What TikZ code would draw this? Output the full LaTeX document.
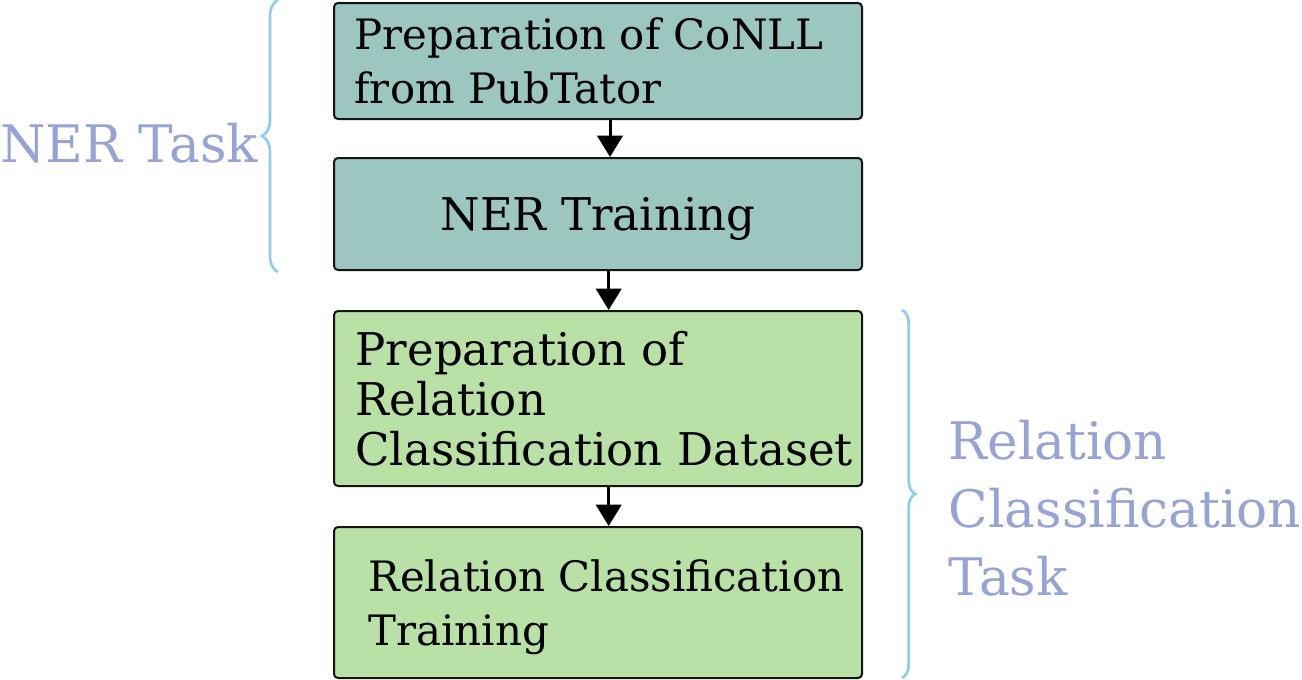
\documentclass[tikz,border=0pt]{standalone}
\usepackage{fontspec}
\setmainfont{DejaVu Serif}
\usetikzlibrary{arrows.meta,decorations.pathreplacing}

\definecolor{nerfill}{RGB}{155,199,192}
\definecolor{relfill}{RGB}{185,224,165}
\definecolor{bracecol}{RGB}{143,205,238}
\definecolor{labelcol}{RGB}{151,163,214}

\tikzset{every picture/.style={line width=0.75pt}}
\tikzset{
  stagebox/.style={draw={rgb,255:red,20;green,20;blue,20}, line width=1.5pt, rounded corners=3pt, minimum width=396pt, inner sep=0pt},
  stagetext/.style={anchor=west, inner sep=0pt, align=left, font=\fontsize{31.4}{40.5}\selectfont},
  tasklabel/.style={inner sep=0pt, align=left, text=labelcol, font=\fontsize{38.8}{51}\selectfont},
  taskbrace/.style={draw=bracecol, line width=2pt, decorate, decoration={brace, amplitude=#1}},
  flow/.style={line width=2.25pt, -{Triangle[length=16pt,width=19pt]}}
}

\begin{document}
\begin{tikzpicture}[x=0.75pt,y=0.75pt,yscale=-1,xscale=1]
\useasboundingbox (0,0) rectangle (1302,679);

%Shape: Rectangle [conll]
\node[stagebox, fill=nerfill, minimum height=87pt] (conll) at (598,61) {};
%Shape: Rectangle [ner]
\node[stagebox, fill=nerfill, minimum height=84pt] (ner) at (598,214) {};
%Shape: Rectangle [reldata]
\node[stagebox, fill=relfill, minimum height=131.25pt] (reldata) at (598,398.5) {};
%Shape: Rectangle [reltrain]
\node[stagebox, fill=relfill, minimum height=113.25pt] (reltrain) at (598,602.5) {};

% Text Node
\node[stagetext] (conlltxt) at ([xshift=15.75pt]conll.west) {Preparation of CoNLL\\from PubTator};
% Text Node
\node[stagetext, anchor=center, font=\fontsize{33.8}{40}\selectfont] (nertxt) at ([yshift=3.75pt]ner.center) {NER Training};
% Text Node
\node[stagetext, font=\fontsize{33.8}{37.5}\selectfont] (reldatatxt) at ([xshift=16.5pt]reldata.west) {Preparation of\\Relation\\Classification Dataset};
% Text Node
\node[stagetext] (reltraintxt) at ([xshift=26.25pt,yshift=3.75pt]reltrain.west) {Relation Classification\\Training};

%Arrows
\draw[flow] ([xshift=9pt]conll.south) -- ([xshift=9pt]ner.north);
\draw[flow] ([xshift=8pt]ner.south) -- ([xshift=8pt]reldata.north);
\draw[flow] ([xshift=8pt]reldata.south) -- ([xshift=8pt]reltrain.north);

%Braces
\draw[taskbrace=12pt] (278,272) -- (278,0);
\draw[taskbrace=10pt] (902,310) -- (902,678);

% Text Node
\node[tasklabel, anchor=base west] (nerlbl) at (0,162) {NER Task};
% Text Node
\node[tasklabel, anchor=base west] (rellbl) at (948,595) {Relation\\Classification\\Task};

\end{tikzpicture}
\end{document}
